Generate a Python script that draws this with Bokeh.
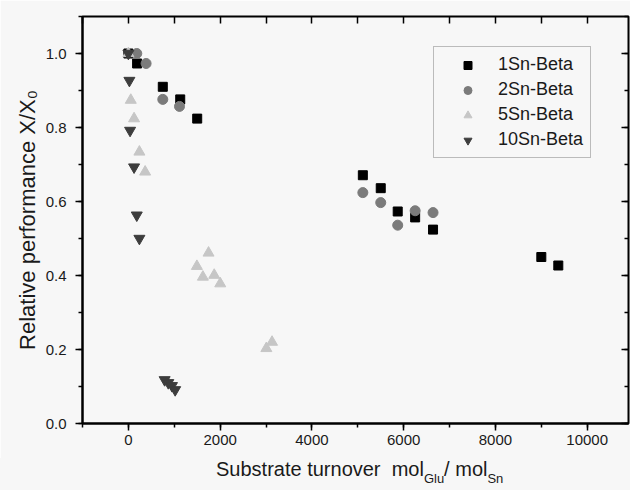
from bokeh.plotting import figure
from bokeh.layouts import column
from bokeh.models import (LinearAxis, SingleIntervalTicker, NumeralTickFormatter,
                          Legend, LegendItem, Range1d, CustomJSTickFormatter, Div)
from bokeh.embed import file_html
from bokeh.resources import INLINE

# ---- data ----
x_1sn = [0, 190, 750, 1130, 1500, 5110, 5500, 5870, 6250, 6640, 9000, 9370]
y_1sn = [1.0, 0.973, 0.910, 0.876, 0.824, 0.671, 0.636, 0.573, 0.557, 0.524, 0.450, 0.427]

x_2sn = [183, 386, 750, 1114, 5110, 5500, 5870, 6250, 6640]
y_2sn = [1.0, 0.973, 0.876, 0.857, 0.624, 0.597, 0.536, 0.575, 0.570]

x_5sn = [0, 52, 124, 240, 365, 1493, 1624, 1747, 1871, 2002, 3007, 3131]
y_5sn = [1.0, 0.874, 0.824, 0.734, 0.680, 0.425, 0.396, 0.461, 0.401, 0.378, 0.203, 0.220]

x_10sn = [0, 22, 37, 124, 183, 240, 790, 870, 950, 1020]
y_10sn = [1.0, 0.927, 0.792, 0.693, 0.563, 0.500, 0.118, 0.110, 0.102, 0.091]

series_names = ["1Sn-Beta", "2Sn-Beta", "5Sn-Beta", "10Sn-Beta"]
y_title = "Relative performance X/X\u2080"
x_title_parts = ["Substrate turnover\u00a0 mol", "Glu", "/ mol", "Sn"]

FONT = "Liberation Sans"
BG = "#f7f7f7"
TXT = "#1a1a1a"

p = figure(width=630, height=458, x_range=Range1d(-1000, 10900), y_range=Range1d(0, 1.1),
           output_backend="svg", toolbar_location=None,
           min_border_left=82, min_border_right=2, min_border_top=16, min_border_bottom=35,
           background_fill_color=BG, border_fill_color=BG)
p.xgrid.visible = False
p.ygrid.visible = False
p.outline_line_color = "black"
p.outline_line_width = 2

# bottom axis
xa = p.xaxis[0]
xa.ticker = SingleIntervalTicker(interval=2000, num_minor_ticks=2)
xa.major_tick_out = 7
xa.major_tick_in = 0
xa.minor_tick_out = 4
xa.minor_tick_in = 0
xa.major_label_standoff = 4
xa.major_label_text_font = FONT
xa.major_label_text_font_size = "15px"
xa.major_label_text_color = TXT
xa.axis_line_width = 2
xa.major_tick_line_width = 1.5
xa.minor_tick_line_width = 1.5

# left axis
ya = p.yaxis[0]
ya.ticker = SingleIntervalTicker(interval=0.2, num_minor_ticks=2)
ya.formatter = NumeralTickFormatter(format="0.0")
ya.major_tick_out = 7
ya.major_tick_in = 0
ya.minor_tick_out = 4
ya.minor_tick_in = 0
ya.major_label_standoff = 9
ya.major_label_text_font = FONT
ya.major_label_text_font_size = "15px"
ya.major_label_text_color = TXT
ya.axis_line_width = 2
ya.major_tick_line_width = 1.5
ya.minor_tick_line_width = 1.5
ya.axis_label = y_title
ya.axis_label_text_font = FONT
ya.axis_label_text_font_size = "22px"
ya.axis_label_text_font_style = "normal"
ya.axis_label_text_color = TXT
ya.axis_label_standoff = 3

empty = CustomJSTickFormatter(code="return ''")

top = LinearAxis(ticker=SingleIntervalTicker(interval=1000, num_minor_ticks=0),
                 formatter=empty, major_tick_in=7, major_tick_out=0,
                 major_label_text_font_size="1px", major_label_standoff=0,
                 axis_line_color=None, major_tick_line_width=1.5)
p.add_layout(top, "above")

right = LinearAxis(ticker=SingleIntervalTicker(interval=0.2, num_minor_ticks=2),
                   formatter=empty, major_tick_in=7, major_tick_out=0,
                   minor_tick_in=4, minor_tick_out=0,
                   major_label_text_font_size="1px", major_label_standoff=0,
                   axis_line_color=None, major_tick_line_width=1.5, minor_tick_line_width=1.5)
p.add_layout(right, "right")

# markers
r1 = p.scatter(x_1sn, y_1sn, marker="square", size=9, color="#000000")
r2 = p.scatter(x_2sn, y_2sn, marker="circle", size=10, color="#7b7b7b")
r5 = p.scatter(x_5sn, y_5sn, marker="triangle", size=11, color="#c6c6c6")
r10 = p.scatter(x_10sn, y_10sn, marker="inverted_triangle", size=11, color="#3d3d3d")

legend = Legend(items=[LegendItem(label=n, renderers=[r]) for n, r in
                       zip(series_names, [r1, r2, r5, r10])],
                location=(351, 265), margin=0, padding=7, spacing=4,
                glyph_width=53, glyph_height=20, label_height=20, label_standoff=4,
                label_text_font=FONT, label_text_font_size="18px", label_text_color=TXT,
                border_line_color="#808080", border_line_width=1,
                background_fill_alpha=0)
p.add_layout(legend)

# x-axis title with subscripts (HTML text below the plot)
sub_style = "font-size:13px;vertical-align:-7px;line-height:0"
title_html = (f"{x_title_parts[0]}<sub style='{sub_style}'>{x_title_parts[1]}</sub>"
              f"{x_title_parts[2]}<sub style='{sub_style}'>{x_title_parts[3]}</sub>")
div = Div(text=title_html, width=630, height=32, margin=(0, 0, 0, 0),
          styles={"font-family": FONT, "font-size": "20px", "color": TXT,
                  "line-height": "22px", "padding-left": "216px", "white-space": "nowrap",
                  "background-color": BG})

layout = column(p, div, spacing=0)
open("out.html", "w").write(file_html(layout, INLINE))
